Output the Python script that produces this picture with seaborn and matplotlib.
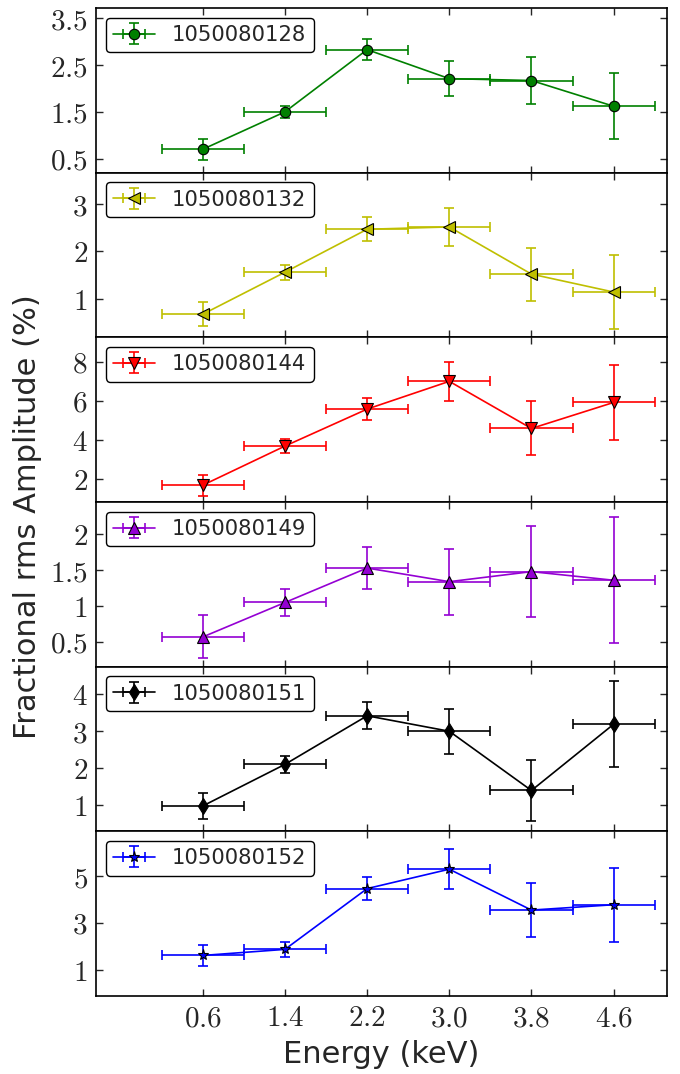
import matplotlib
matplotlib.use("Agg")
import matplotlib.pyplot as plt
import pandas as pd
import seaborn as sns
from matplotlib.container import ErrorbarContainer
from matplotlib.ticker import FixedLocator, FuncFormatter

# Energy bins (keV): centres and half-widths
energy = [0.6, 1.4, 2.2, 3.0, 3.8, 4.6]
energy_halfwidth = [0.4, 0.4, 0.4, 0.4, 0.4, 0.4]

obsids = ["1050080128", "1050080132", "1050080144",
          "1050080149", "1050080151", "1050080152"]

# Fractional rms amplitude (%) and 1-sigma errors per observation
rms_128 = [0.70, 1.50, 2.83, 2.21, 2.17, 1.62]
err_128 = [0.22, 0.13, 0.23, 0.37, 0.50, 0.70]
rms_132 = [0.67, 1.56, 2.47, 2.52, 1.52, 1.14]
err_132 = [0.25, 0.16, 0.25, 0.40, 0.56, 0.78]
rms_144 = [1.68, 3.68, 5.57, 6.99, 4.58, 5.91]
err_144 = [0.53, 0.37, 0.58, 0.99, 1.38, 1.91]
rms_149 = [0.57, 1.05, 1.53, 1.34, 1.48, 1.36]
err_149 = [0.30, 0.19, 0.29, 0.46, 0.63, 0.88]
rms_151 = [0.97, 2.10, 3.42, 3.00, 1.39, 3.19]
err_151 = [0.35, 0.23, 0.37, 0.61, 0.82, 1.17]
rms_152 = [1.61, 1.87, 4.47, 5.30, 3.55, 3.78]
err_152 = [0.45, 0.31, 0.50, 0.85, 1.17, 1.59]

rms_values = [rms_128, rms_132, rms_144, rms_149, rms_151, rms_152]
rms_errors = [err_128, err_132, err_144, err_149, err_151, err_152]

# y tick values for each panel
yticks = [[0.5, 1.5, 2.5, 3.5], [1, 2, 3], [2, 4, 6, 8],
          [0.5, 1, 1.5, 2], [1, 2, 3, 4], [1, 3, 5]]
xticks = energy

# panel styling
colors = ["green", (0.75, 0.75, 0.0), "red", "darkviolet", "black", "blue"]
markers = ["o", "<", "v", "^", "d", "*"]
marker_sizes = [7.5, 8, 8, 8, 8, 8]
ylims = [(0.20, 3.72), (0.18, 3.67), (0.82, 9.24),
         (0.156, 2.45), (0.28, 4.755), (-0.125, 6.92)]

sns.set_style("ticks")
plt.rcParams.update({
    "font.family": ["DejaVu Sans"],
    "mathtext.fontset": "cm",
    "axes.linewidth": 1.2,
    "xtick.direction": "in",
    "ytick.direction": "in",
    "xtick.major.size": 5,
    "ytick.major.size": 5,
    "xtick.major.width": 1.0,
    "ytick.major.width": 1.0,
    "xtick.top": True,
    "ytick.right": True,
    "axes.edgecolor": "black",
})

fig, axes = plt.subplots(6, 1, sharex=True, figsize=(6.8, 10.74), dpi=100)
fig.subplots_adjust(left=96 / 680, right=667 / 680,
                    top=1 - 8 / 1074, bottom=1 - 996 / 1074, hspace=0)

for i, ax in enumerate(axes):
    df = pd.DataFrame({"energy": energy, "rms": rms_values[i],
                       "xerr": energy_halfwidth, "yerr": rms_errors[i]})
    c = colors[i]
    eb = ax.errorbar(df["energy"], df["rms"], xerr=df["xerr"], yerr=df["yerr"],
                     fmt="none", ecolor=c, elinewidth=1.2, capsize=3.5,
                     capthick=1.2, zorder=2)
    sns.lineplot(data=df, x="energy", y="rms", ax=ax, color=c,
                 marker=markers[i], markersize=marker_sizes[i],
                 markeredgecolor="black", markeredgewidth=0.8,
                 linewidth=1.2, errorbar=None, legend=False, zorder=3)
    line = ax.lines[-1]
    handle = ErrorbarContainer((line, eb.lines[1], eb.lines[2]),
                               has_xerr=True, has_yerr=True)
    leg = ax.legend([handle], [obsids[i]], loc="upper left", numpoints=1,
                    fontsize=15.2, frameon=True, fancybox=True,
                    edgecolor="black", framealpha=1, borderpad=0.35,
                    handlelength=2.0, handletextpad=0.8, borderaxespad=0.45)
    leg.get_frame().set_linewidth(1.0)

    ax.set_ylim(*ylims[i])
    ax.yaxis.set_major_locator(FixedLocator(yticks[i]))
    ax.yaxis.set_major_formatter(FuncFormatter(lambda v, p: f"${v:g}$"))
    ax.set_xlabel("")
    ax.set_ylabel("")
    ax.tick_params(labelsize=21, pad=6)

axes[-1].set_xlim(-0.44, 5.12)
axes[-1].xaxis.set_major_locator(FixedLocator(xticks))
axes[-1].xaxis.set_major_formatter(FuncFormatter(lambda v, p: f"${v:.1f}$"))

fig.text(0.561, 1 - 1063 / 1074, "Energy (keV)", ha="center",
         va="baseline", fontsize=22)
fig.text(28 / 680, 1 - 517 / 1074, "Fractional rms Amplitude (%)",
         rotation=90, ha="center", va="center", fontsize=22)

fig.savefig("out.png", dpi=100)
